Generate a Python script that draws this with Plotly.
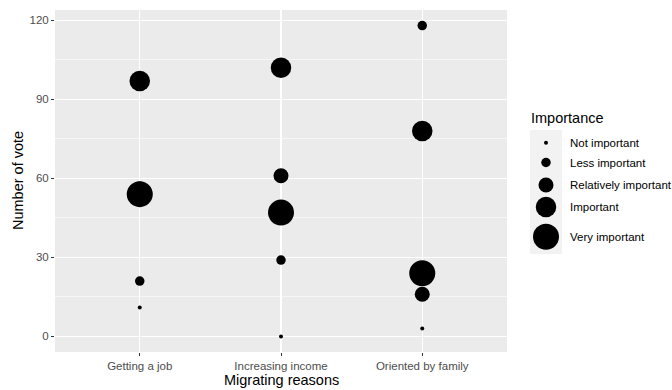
import plotly.graph_objects as go

# ---- data ----
reasons = ["Getting a job", "Increasing income", "Oriented by family"]
importance_levels = ["Not important", "Less important", "Relatively important",
                     "Important", "Very important"]
votes_getting_job = [11, 21, 56, 97, 54]
votes_increasing_income = [0, 29, 61, 102, 47]
votes_oriented_family = [3, 118, 16, 78, 24]
y_ticks = [0, 30, 60, 90, 120]

# ---- style / layout constants (pixel positions in the 672x390 window) ----
W, H = 672, 390
PANEL_L, PANEL_R, PANEL_T, PANEL_B = 55, 507, 10, 352
marker_px = [4, 9.5, 15, 20.5, 26]              # size scale per importance level
legend_key_y = [142.7, 162.5, 185, 207, 236.7]  # legend key centres (px)
LEG_X0, LEG_X1, LEG_Y0, LEG_Y1 = 530, 562, 130, 254
FONT = "Liberation Sans, Arial, sans-serif"

ML, MT, MB, MR = PANEL_L, PANEL_T, H - PANEL_B, 0
plot_w = W - ML - MR
plot_h = H - MT - MB


def px_x(p):
    return (p - PANEL_L) / plot_w


def px_y(p):
    return (PANEL_B - p) / plot_h


series = [votes_getting_job, votes_increasing_income, votes_oriented_family]

fig = go.Figure()

# legend key background (drawn first, on the legend axes)
fig.add_trace(go.Scatter(
    x=[LEG_X0, LEG_X1, LEG_X1, LEG_X0, LEG_X0],
    y=[LEG_Y0, LEG_Y0, LEG_Y1, LEG_Y1, LEG_Y0],
    mode="lines", fill="toself", fillcolor="#F2F2F2",
    line=dict(width=0, color="#F2F2F2"),
    showlegend=False, hoverinfo="skip",
    xaxis="x2", yaxis="y2",
))

for j, level in enumerate(importance_levels):
    fig.add_trace(go.Scatter(
        x=reasons,
        y=[s[j] for s in series],
        mode="markers",
        name=level,
        marker=dict(size=marker_px[j], color="black", opacity=1,
                    line=dict(width=0)),
        showlegend=False,
        xaxis="x", yaxis="y",
    ))

# custom legend keys (same size scale as the points)
fig.add_trace(go.Scatter(
    x=[(LEG_X0 + LEG_X1) / 2] * len(importance_levels),
    y=legend_key_y,
    mode="markers",
    marker=dict(size=marker_px, color="black", opacity=1, line=dict(width=0)),
    showlegend=False, hoverinfo="skip",
    xaxis="x2", yaxis="y2",
))

annotations = []
for lvl, yy in zip(importance_levels, legend_key_y):
    annotations.append(dict(x=px_x(568), y=px_y(yy), xref="paper", yref="paper",
                            text=lvl, showarrow=False,
                            xanchor="left", yanchor="middle",
                            font=dict(family=FONT, size=11.5, color="black")))
annotations.append(dict(x=px_x(LEG_X0 - 1), y=px_y(118), xref="paper", yref="paper",
                        text="Importance", showarrow=False,
                        xanchor="left", yanchor="middle",
                        font=dict(family=FONT, size=14.5, color="black")))
annotations.append(dict(x=px_x(18), y=0.5, xref="paper", yref="paper",
                        text="Number of vote", textangle=-90, showarrow=False,
                        xanchor="center", yanchor="middle",
                        font=dict(family=FONT, size=14.5, color="black")))
annotations.append(dict(x=px_x((PANEL_L + PANEL_R) / 2), y=px_y(380),
                        xref="paper", yref="paper",
                        text="Migrating reasons", showarrow=False,
                        xanchor="center", yanchor="middle",
                        font=dict(family=FONT, size=14.5, color="black")))

fig.update_layout(
    width=W, height=H,
    margin=dict(l=ML, r=MR, t=MT, b=MB, autoexpand=False),
    paper_bgcolor="white",
    plot_bgcolor="#EBEBEB",
    font=dict(family=FONT),
    annotations=annotations,
    hovermode=False,
    xaxis=dict(
        domain=[0, px_x(PANEL_R)],
        type="category",
        categoryorder="array", categoryarray=reasons,
        range=[-0.6, len(reasons) - 1 + 0.6],
        showgrid=True, gridcolor="white", gridwidth=1.1,
        zeroline=False, showline=False,
        ticks="outside", ticklen=3, tickwidth=1, tickcolor="#333333",
        tickfont=dict(family=FONT, size=11.5, color="#4D4D4D"),
        automargin=False, fixedrange=True,
    ),
    yaxis=dict(
        domain=[0, 1],
        range=[-5.9, 123.9],
        tickvals=y_ticks,
        showgrid=True, gridcolor="white", gridwidth=1.1,
        minor=dict(tickvals=[15, 45, 75, 105], showgrid=True,
                   gridcolor="white", gridwidth=0.55, ticks=""),
        zeroline=False, showline=False,
        ticks="outside", ticklen=3, tickwidth=1, tickcolor="#333333",
        tickfont=dict(family=FONT, size=11.5, color="#4D4D4D"),
        automargin=False, fixedrange=True,
    ),
    xaxis2=dict(
        domain=[px_x(LEG_X0), px_x(LEG_X1)], range=[LEG_X0, LEG_X1],
        anchor="y2", visible=False, showgrid=False, zeroline=False,
        fixedrange=True,
    ),
    yaxis2=dict(
        domain=[px_y(LEG_Y1), px_y(LEG_Y0)], range=[LEG_Y1, LEG_Y0],
        anchor="x2", visible=False, showgrid=False, zeroline=False,
        fixedrange=True,
    ),
)

# remove the browser's default 8px body margin so the figure fills the window
fig.write_html(
    "out.html",
    config={"displayModeBar": False, "staticPlot": True},
    post_script="document.body.style.margin='0';document.body.style.overflow='hidden';",
)
